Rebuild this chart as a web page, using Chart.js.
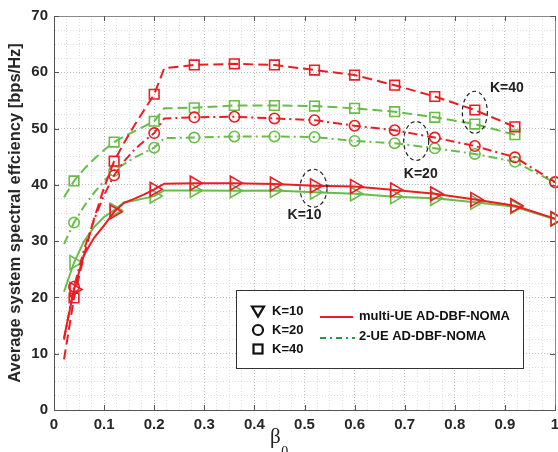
<!DOCTYPE html>
<html><head><meta charset="utf-8">
<script src="https://cdn.jsdelivr.net/npm/chart.js@4.4.0/dist/chart.umd.min.js"></script>
<style>html,body{margin:0;padding:0;background:#fff}canvas{display:block}</style>
</head><body>
<canvas id="c" width="558" height="452"></canvas>
<script>
// ---- data ----
const betas = [0.02,0.04,0.06,0.08,0.10,0.12,0.14,0.16,0.18,0.20,0.22,0.28,0.36,0.44,0.52,0.60,0.68,0.76,0.84,0.92,1.00];
const markerBetas = [0.04,0.12,0.20,0.28,0.36,0.44,0.52,0.60,0.68,0.76,0.84,0.92,1.00];
const multiK10 = [12.8,21.4,27.6,30.6,32.8,35.2,36.8,37.5,38.3,39.2,40.2,40.3,40.3,40.15,39.85,39.7,39.1,38.4,37.4,36.3,34.0];
const twoK10   = [21.0,26.2,30.0,32.5,34.3,35.5,36.9,37.2,37.6,38.0,39.0,39.0,38.96,39.0,38.7,38.4,37.9,37.6,36.9,36.1,33.9];
const multiK20 = [12.5,21.9,28.5,33.8,38.2,41.7,44.2,46.2,47.8,49.2,51.8,52.0,52.1,51.8,51.5,50.5,49.7,48.4,46.9,44.9,40.5];
const twoK20   = [29.5,33.3,36.2,38.6,40.7,42.5,43.7,44.8,45.7,46.6,48.3,48.4,48.6,48.6,48.5,47.8,47.4,46.5,45.5,44.1,40.4];
const multiK40 = [9.0,19.9,27.5,34.0,39.5,44.2,47.5,50.5,53.3,56.1,60.7,61.3,61.5,61.3,60.4,59.5,57.7,55.7,53.3,50.3,null];
const twoK40   = [37.8,40.7,42.8,44.6,46.2,47.6,48.6,49.5,50.4,51.3,53.6,53.7,54.1,54.1,54.0,53.6,53.0,52.0,50.8,48.9,null];
const xTickLabels = ['0','0.1','0.2','0.3','0.4','0.5','0.6','0.7','0.8','0.9','1'];
const yTickLabels = ['0','10','20','30','40','50','60','70'];
const legendK = ['K=10','K=20','K=40'];
const legendSchemes = ['multi-UE AD-DBF-NOMA','2-UE AD-DBF-NOMA'];
const annotTexts = ['K=10','K=20','K=40'];

// ---- styles ----
const RED = '#ec1c24', GREEN = '#67bd45', LGREEN = '#1f9e4a';
const FONT = "'Liberation Sans', Arial, sans-serif";
const isMarker = b => markerBetas.some(m => Math.abs(m - b) < 1e-9);

function mk(label, vals, color, dash, style, rot, r) {
  const data = [];
  betas.forEach((b, i) => { if (vals[i] !== null) data.push({x: b, y: vals[i]}); });
  return {
    label, data, borderColor: color, borderWidth: 2, borderDash: dash,
    pointStyle: style, pointRotation: rot,
    pointRadius: ctx => (ctx.raw && isMarker(ctx.raw.x)) ? r : 0,
    pointHoverRadius: 0,
    pointBorderColor: color, pointBackgroundColor: 'rgba(0,0,0,0)', pointBorderWidth: 1.6,
    tension: 0, fill: false, clip: false
  };
}

const DASH20 = [9,4,2,4], DASH40 = [10,5];
const datasets = [
  mk('multi K=40', multiK40, RED, DASH40, 'rect', 0, 6.8),
  mk('multi K=20', multiK20, RED, DASH20, 'circle', 0, 5.2),
  mk('multi K=10', multiK10, RED, [], 'triangle', 90, 8),
  mk('2-UE K=40', twoK40, GREEN, DASH40, 'rect', 0, 6.8),
  mk('2-UE K=20', twoK20, GREEN, DASH20, 'circle', 0, 5.2),
  mk('2-UE K=10', twoK10, GREEN, [], 'triangle', 90, 8),
];

const near = (v, step) => Math.abs(v / step - Math.round(v / step)) < 1e-6;

const annots = [
  {t: 0, ex: 0.518, ey: 39.4, rx: 13.5, ry: 19, lx: 0.50, ly: 34.6},
  {t: 1, ex: 0.723, ey: 47.8, rx: 12.5, ry: 19.5, lx: 0.732, ly: 41.9},
  {t: 2, ex: 0.840, ey: 52.9, rx: 12.5, ry: 21, lx: 0.904, ly: 57.2},
];

const decor = {
  id: 'decor',
  afterDatasetsDraw(chart) {
    const {ctx, chartArea: {left, right, top, bottom}, scales: {x, y}} = chart;
    ctx.save();
    // box top/right
    ctx.strokeStyle = '#8a8a8a'; ctx.lineWidth = 1; ctx.setLineDash([]);
    ctx.beginPath();
    ctx.moveTo(left, top + 0.5); ctx.lineTo(right + 0.5, top + 0.5); ctx.lineTo(right + 0.5, bottom);
    ctx.stroke();
    // inward ticks
    ctx.strokeStyle = '#555';
    ctx.beginPath();
    for (let i = 0; i <= 10; i++) {
      const px = Math.round(x.getPixelForValue(i / 10)) + 0.5;
      ctx.moveTo(px, bottom); ctx.lineTo(px, bottom - 5);
      ctx.moveTo(px, top); ctx.lineTo(px, top + 5);
    }
    for (let j = 0; j <= 7; j++) {
      const py = Math.round(y.getPixelForValue(j * 10)) + 0.5;
      ctx.moveTo(left, py); ctx.lineTo(left + 5, py);
      ctx.moveTo(right, py); ctx.lineTo(right - 5, py);
    }
    ctx.stroke();

    // annotations
    ctx.strokeStyle = '#222'; ctx.lineWidth = 1.2; ctx.setLineDash([4, 3]);
    annots.forEach(a => {
      ctx.beginPath();
      ctx.ellipse(x.getPixelForValue(a.ex), y.getPixelForValue(a.ey), a.rx, a.ry, 0, 0, Math.PI * 2);
      ctx.stroke();
    });
    ctx.setLineDash([]);
    ctx.fillStyle = '#222'; ctx.font = 'bold 14px ' + FONT;
    ctx.textAlign = 'center'; ctx.textBaseline = 'middle';
    annots.forEach(a => ctx.fillText(annotTexts[a.t], x.getPixelForValue(a.lx), y.getPixelForValue(a.ly)));

    // legend box
    const bx = 236.5, by = 290.5, bw = 287, bh = 78;
    ctx.fillStyle = '#fff'; ctx.fillRect(bx, by, bw, bh);
    ctx.strokeStyle = '#333'; ctx.lineWidth = 1; ctx.strokeRect(bx, by, bw, bh);
    ctx.strokeStyle = '#111'; ctx.lineWidth = 2.2;
    const mxs = 258, rows = [311, 330, 349];
    ctx.beginPath();
    ctx.moveTo(mxs - 6, rows[0] - 4.5); ctx.lineTo(mxs + 6, rows[0] - 4.5); ctx.lineTo(mxs, rows[0] + 5.5); ctx.closePath(); ctx.stroke();
    ctx.beginPath(); ctx.arc(mxs, rows[1], 5, 0, Math.PI * 2); ctx.stroke();
    ctx.strokeRect(mxs - 4.5, rows[2] - 4.5, 9, 9);
    ctx.fillStyle = '#111'; ctx.font = 'bold 13px ' + FONT; ctx.textAlign = 'left'; ctx.textBaseline = 'middle';
    legendK.forEach((t, i) => ctx.fillText(t, 272, rows[i] + 0.5));
    ctx.lineWidth = 2;
    ctx.strokeStyle = RED; ctx.beginPath(); ctx.moveTo(320, 317); ctx.lineTo(353, 317); ctx.stroke();
    ctx.strokeStyle = LGREEN; ctx.setLineDash([6, 4, 2, 4]); ctx.beginPath(); ctx.moveTo(320, 338); ctx.lineTo(355, 338); ctx.stroke();
    ctx.setLineDash([]);
    ctx.fillText(legendSchemes[0], 359, 316);
    ctx.fillText(legendSchemes[1], 359, 336);

    // x-axis title beta_0
    ctx.fillStyle = '#222'; ctx.textBaseline = 'alphabetic';
    ctx.font = "21px 'Liberation Serif', 'Times New Roman', serif";
    ctx.fillText('β', 270, 443);
    const w = ctx.measureText('β').width;
    ctx.font = "14px 'Liberation Serif', 'Times New Roman', serif";
    ctx.fillText('0', 270 + w + 0.5, 456);
    ctx.restore();
  }
};

new Chart(document.getElementById('c'), {
  type: 'line',
  data: {datasets},
  plugins: [decor],
  options: {
    responsive: false, animation: false, devicePixelRatio: 1,
    layout: {autoPadding: false, padding: {top: 16, right: 3, left: 0, bottom: 0}},
    plugins: {legend: {display: false}, tooltip: {enabled: false}},
    scales: {
      x: {
        type: 'linear', min: 0, max: 1,
        afterFit: s => { s.height = 42; s.paddingRight = 0; s.paddingLeft = 0; },
        ticks: {
          stepSize: 0.025, autoSkip: false, maxRotation: 0, padding: 6,
          color: '#262626', font: {family: FONT, size: 15, weight: 'bold'},
          callback: v => near(v, 0.1) ? xTickLabels[Math.round(v * 10)] : ''
        },
        grid: {
          drawTicks: false, lineWidth: 1,
          color: c => (c.tick && near(c.tick.value, 0.1)) ? '#bdbdbd' : '#dedede'
        },
        border: {display: true, color: '#555', width: 1, dash: [1, 2]}
      },
      y: {
        min: 0, max: 70,
        afterFit: s => { s.width = 54; s.paddingTop = 0; s.paddingBottom = 0; },
        ticks: {
          stepSize: 2.5, autoSkip: false, padding: 6,
          color: '#262626', font: {family: FONT, size: 15, weight: 'bold'},
          callback: v => near(v, 10) ? yTickLabels[Math.round(v / 10)] : ''
        },
        grid: {
          drawTicks: false, lineWidth: 1,
          color: c => (c.tick && near(c.tick.value, 10)) ? '#bdbdbd' : '#dedede'
        },
        border: {display: true, color: '#555', width: 1, dash: [1, 2]},
        title: {
          display: true, text: 'Average system spectral effciency [bps/Hz]',
          color: '#262626', font: {family: FONT, size: 16.5, weight: 'bold'},
          padding: {top: 6, bottom: 0}
        }
      }
    }
  }
});
</script>
</body></html>
